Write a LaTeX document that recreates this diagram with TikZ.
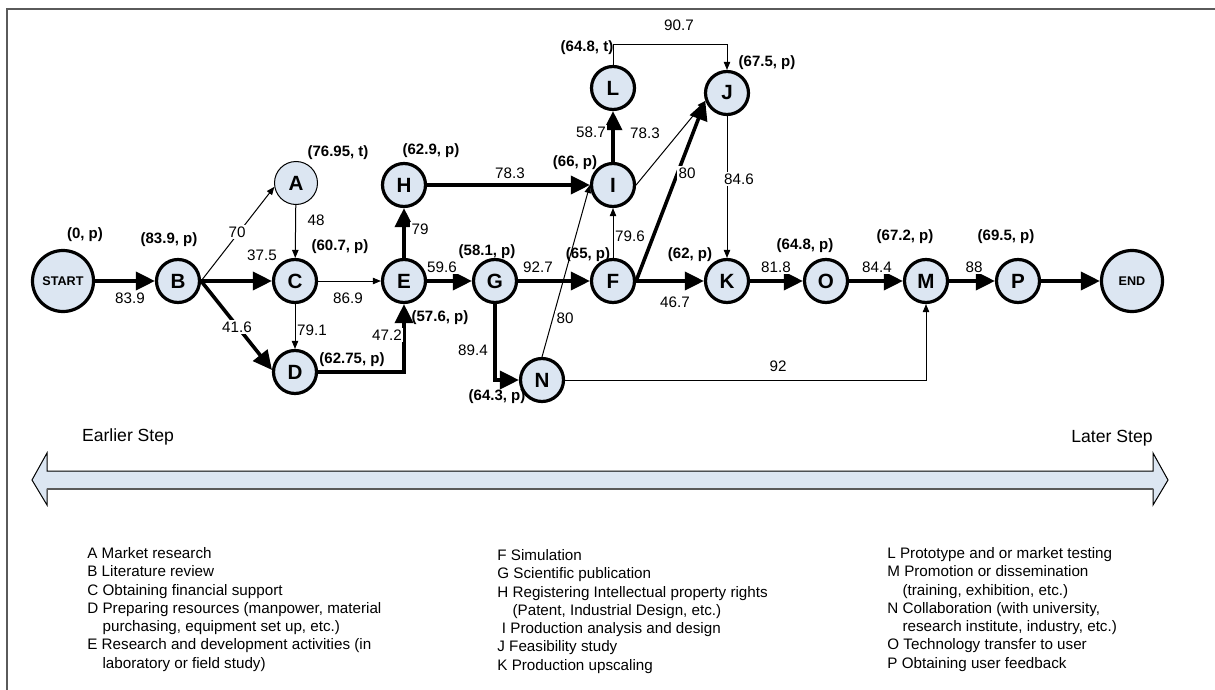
\documentclass[tikz,border=0pt]{standalone}
\usepackage{fontspec}
\setmainfont{Liberation Sans}
\usetikzlibrary{arrows.meta}
\definecolor{stagefill}{HTML}{DCE6F2}
\definecolor{framegray}{HTML}{5A5A5A}

\begin{document}
\begin{tikzpicture}[x=0.5pt,y=-0.5pt,
  stage/.style={circle, draw, line width=1.6pt, fill=stagefill, minimum size=21.5pt,
    inner sep=0pt, font=\bfseries\fontsize{10.3}{12}\selectfont},
  stagethin/.style={stage, line width=0.5pt},
  terminal/.style={stage, minimum size=30.5pt, font=\bfseries\fontsize{6.3}{7}\selectfont},
  tag/.style={font=\bfseries\fontsize{7.5}{9}\selectfont, inner sep=0pt},
  wt/.style={font=\fontsize{7.6}{9}\selectfont, inner sep=0.8pt, fill=white},
  crit/.style={line width=1.8pt, -{Triangle[length=9.5pt,width=9pt]}},
  minor/.style={line width=0.5pt, -{Triangle[length=4pt,width=3.2pt]}},
  legend/.style={anchor=north west, align=left, inner sep=0pt,
    font=\fontsize{7.6}{9.15}\selectfont},
]
\useasboundingbox (0,0) rectangle (1215,690);

% outer frame (top and left edges)
\draw[framegray, line width=1pt] (7,690) -- (7,9) -- (1215,9);

% stage tags (set first so the circles sit on top of them)
\node[tag] (tstart) at (85,235) {(0, p)};
\node[tag] (tB) at (169,240) {(83.9, p)};
\node[tag] (tA) at (338,153) {(76.95, t)};
\node[tag] (tC) at (340,247) {(60.7, p)};
\node[tag] (tD) at (352,360) {(62.75, p)};
\node[tag] (tH) at (431,151) {(62.9, p)};
\node[tag] (tE) at (440,318) {(57.6, p)};
\node[tag] (tG) at (487,252) {(58.1, p)};
\node[tag] (tI) at (575,163) {(66, p)};
\node[tag] (tL) at (587,48) {(64.8, t)};
\node[tag] (tJ) at (767,63) {(67.5, p)};
\node[tag] (tF) at (588,255) {(65, p)};
\node[tag] (tK) at (690,255) {(62, p)};
\node[tag] (tN) at (497,397) {(64.3, p)};
\node[tag] (tO) at (805,246) {(64.8, p)};
\node[tag] (tM) at (905,237) {(67.2, p)};
\node[tag] (tP) at (1006,237) {(69.5, p)};

% stages
\node[terminal] (start) at (63,281) {START};
\node[stage] (B) at (178,281) {B};
\node[stagethin] (A) at (296,183) {A};
\node[stage] (C) at (295,281) {C};
\node[stage] (D) at (295,372) {D};
\node[stage] (E) at (404,281) {E};
\node[stage] (H) at (404,185) {H};
\node[stage] (G) at (495,281) {G};
\node[stage] (N) at (542,380) {N};
\node[stage] (F) at (613,281) {F};
\node[stage] (I) at (613,185) {I};
\node[stage] (L) at (613,88) {L};
\node[stage] (J) at (727,93) {J};
\node[stage] (K) at (727,281) {K};
\node[stage] (O) at (826,281) {O};
\node[stage] (M) at (926,281) {M};
\node[stage] (P) at (1018,281) {P};
\node[terminal] (end) at (1132,281) {END};

% connectors
\draw[crit] (start) -- (B);
\draw[minor] (B.east) -- (A.190);
\draw[crit] (B) -- (C);
\draw[crit] (B.east) -- (D.175);
\draw[minor] (A) -- (C);
\draw[minor] (C) -- (E);
\draw[minor] (C) -- (D);
\draw[crit] (D.east) -| (E.south);
\draw[crit] (E) -- (H);
\draw[crit] (E) -- (G);
\draw[crit] (H) -- (I);
\draw[crit] (G) -- (F);
\draw[crit] (G.south) |- (N.west);
\draw[minor] (N.north) -- (I.west);
\draw[minor] (N.east) -| (M.south);
\draw[crit] (I) -- (L);
\draw[minor] (I.east) -- (J.200);
\draw[minor] (F) -- (I);
\draw[crit] (F.east) -- (J.200);
\draw[crit] (F) -- (K);
\coordinate (ljtop) at (727,45);
\draw[minor] (L.north) |- (ljtop) -- (J.north);
\draw[minor] (J) -- (K);
\draw[crit] (K) -- (O);
\draw[crit] (O) -- (M);
\draw[crit] (M) -- (P);
\draw[crit] (P) -- (end);

% connector weights
\node[wt] (w1) at (130,298) {83.9};
\node[wt] (w2) at (237,232) {70};
\node[wt] (w3) at (262,255) {37.5};
\node[wt] (w4) at (237,327) {41.6};
\node[wt] (w5) at (316,220) {48};
\node[wt] (w6) at (348,298) {86.9};
\node[wt] (w7) at (312,330) {79.1};
\node[wt] (w8) at (387,335) {47.2};
\node[wt] (w9) at (420,229) {79};
\node[wt] (w10) at (442,267) {59.6};
\node[wt] (w11) at (510,173) {78.3};
\node[wt] (w12) at (538,267) {92.7};
\node[wt] (w13) at (473,350) {89.4};
\node[wt] (w14) at (565,318) {80};
\node[wt] (w15) at (591,132) {58.7};
\node[wt] (w16) at (645,133) {78.3};
\node[wt] (w17) at (687,173) {80};
\node[wt] (w18) at (630,236) {79.6};
\node[wt] (w19) at (675,302) {46.7};
\node[wt] (w20) at (739,179) {84.6};
\node[wt] (w21) at (776,267) {81.8};
\node[wt] (w22) at (679,25) {90.7};
\node[wt] (w23) at (778,366) {92};
\node[wt] (w24) at (877,267) {84.4};
\node[wt] (w25) at (974,267) {88};

% time direction arrow
\node[font=\fontsize{8.8}{10}\selectfont, inner sep=0pt] (early) at (128,437) {Earlier Step};
\node[font=\fontsize{8.8}{10}\selectfont, inner sep=0pt] (late) at (1112,438) {Later Step};
\draw[fill=stagefill, line width=0.5pt, line join=miter]
  (32,480) -- (47,453) -- (47,471) -- (1153,471) -- (1153,453) -- (1168,480)
  -- (1153,505) -- (1153,489) -- (47,489) -- (47,505) -- cycle;
\draw[framegray, line width=0.9pt] (47,489) -- (1153,489);

% legend
\node[legend] (leg1) at (87,547) {A Market research\\
B Literature review\\
C Obtaining financial support\\
D Preparing resources (manpower, material\\
\hspace*{1em}purchasing, equipment set up, etc.)\\
E Research and development activities (in\\
\hspace*{1em}laboratory or field study)};
\node[legend] (leg2) at (497,549) {F Simulation\\
G Scientific publication\\
H Registering Intellectual property rights\\
\hspace*{1em}(Patent, Industrial Design, etc.)\\
\hspace*{0.3em}I Production analysis and design\\
J Feasibility study\\
K Production upscaling};
\node[legend] (leg3) at (887,547) {L Prototype and or market testing\\
M Promotion or dissemination\\
\hspace*{1em}(training, exhibition, etc.)\\
N Collaboration (with university,\\
\hspace*{1em}research institute, industry, etc.)\\
O Technology transfer to user\\
P Obtaining user feedback};
\end{tikzpicture}
\end{document}
